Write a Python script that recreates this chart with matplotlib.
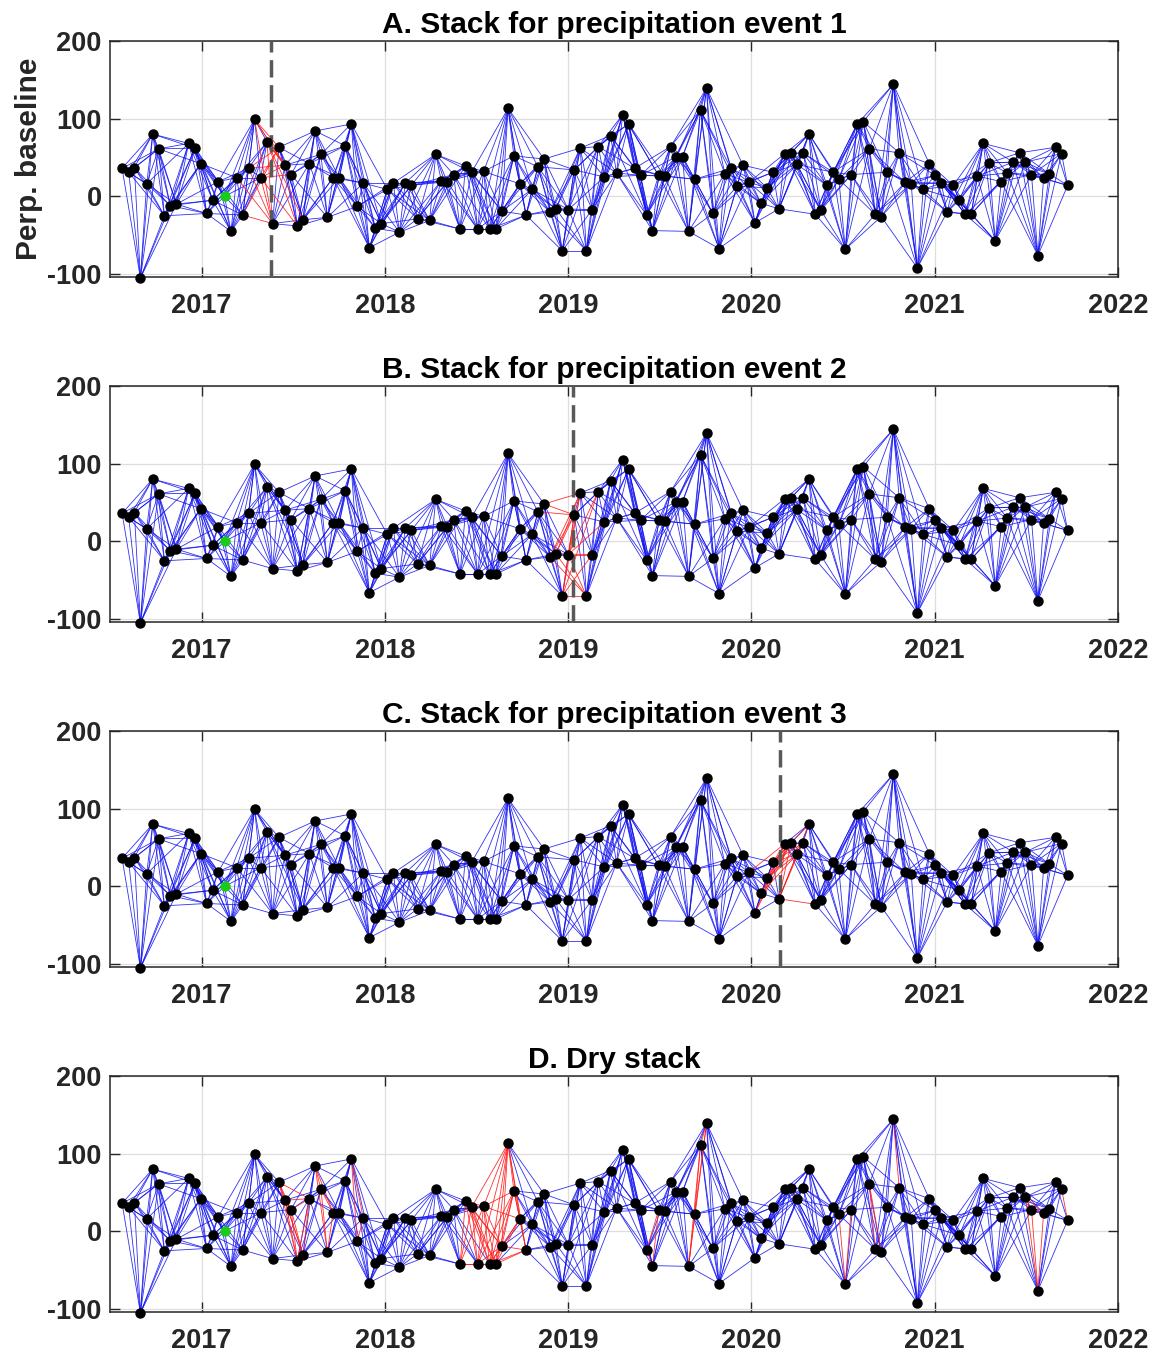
import matplotlib
matplotlib.use('Agg')
import matplotlib.pyplot as plt
from matplotlib.collections import LineCollection
import numpy as np

# ---------------- data ----------------
dates = [2016.566, 2016.602, 2016.633, 2016.666, 2016.700, 2016.733, 2016.765, 2016.797,
         2016.829, 2016.862, 2016.929, 2016.964, 2016.995, 2017.027, 2017.060, 2017.091,
         2017.125, 2017.160, 2017.191, 2017.224, 2017.256, 2017.289, 2017.322, 2017.357,
         2017.387, 2017.422, 2017.455, 2017.488, 2017.522, 2017.553, 2017.588, 2017.619,
         2017.651, 2017.686, 2017.717, 2017.751, 2017.784, 2017.817, 2017.849, 2017.882,
         2017.915, 2017.948, 2017.980, 2018.013, 2018.046, 2018.079, 2018.111, 2018.144,
         2018.178, 2018.244, 2018.277, 2018.308, 2018.340, 2018.375, 2018.410, 2018.440,
         2018.473, 2018.506, 2018.538, 2018.571, 2018.604, 2018.637, 2018.672, 2018.704,
         2018.737, 2018.770, 2018.803, 2018.835, 2018.868, 2018.901, 2018.933, 2018.968,
         2019.001, 2019.033, 2019.066, 2019.099, 2019.131, 2019.164, 2019.197, 2019.231,
         2019.264, 2019.297, 2019.330, 2019.362, 2019.395, 2019.428, 2019.460, 2019.493,
         2019.526, 2019.559, 2019.591, 2019.624, 2019.657, 2019.690, 2019.722, 2019.755,
         2019.790, 2019.823, 2019.855, 2019.888, 2019.921, 2019.954, 2019.986, 2020.019,
         2020.052, 2020.085, 2020.117, 2020.150, 2020.183, 2020.216, 2020.248, 2020.281,
         2020.314, 2020.348, 2020.379, 2020.412, 2020.445, 2020.477, 2020.512, 2020.544,
         2020.577, 2020.610, 2020.643, 2020.675, 2020.708, 2020.741, 2020.774, 2020.806,
         2020.839, 2020.872, 2020.905, 2020.937, 2020.970, 2021.003, 2021.035, 2021.068,
         2021.101, 2021.134, 2021.166, 2021.199, 2021.232, 2021.265, 2021.297, 2021.330,
         2021.363, 2021.396, 2021.428, 2021.463, 2021.495, 2021.528, 2021.563, 2021.594,
         2021.626, 2021.659, 2021.692, 2021.725]

perp_baseline = [36, 31, 37, -105, 16, 80, 61, -25, -12, -10, 68, 62, 42, -22, -5, 19,
                 0, -45, 24, -24, 36, 99, 24, 70, -35, 63, 40, 28, -38, -30, 42, 84,
                 54, -27, 24, 24, 65, 93, -13, 17, -66, -41, -35, 9, 17, -46, 17, 14,
                 -29, -31, 54, 20, 19, 28, -42, 39, 31, -42, 32, -42, -42, -19, 113, 52,
                 16, -24, 9, 38, 48, -20, -16, -70, -17, 34, 62, -70, -17, 64, 25, 78,
                 30, 105, 93, 36, 27, -24, -44, 27, 26, 64, 51, 51, -45, 22, 111, 139,
                 -22, -67, 29, 36, 13, 40, 18, -34, -9, 11, 31, -16, 55, 56, 41, 56,
                 80, -23, -18, 14, 31, 22, -68, 28, 93, 96, 61, -23, -26, 31, 144, 56,
                 18, 16, -92, 9, 42, 27, 17, -20, 14, -5, -23, -23, 26, 68, 43, -57,
                 19, 30, 44, 56, 44, 28, -76, 23, 29, 63, 55, 14]

reference_acquisition = 17          # 1-based number of the reference (green) acquisition
n_neighbors = 6                     # each acquisition paired with its next 6 acquisitions
event_dates = [2017.379, 2019.024, 2020.157]
# red (excluded) pairs in the dry stack: acquisition-number windows (1-based)
dry_red_windows = [(26, 31), (32, 35), (38, 40), (55, 66), (86, 88), (93, 96),
                   (110, 111), (118, 120), (123, 125), (127, 128), (149, 152), (155, 156)]

panel_titles = ['A. Stack for precipitation event 1',
                'B. Stack for precipitation event 2',
                'C. Stack for precipitation event 3',
                'D. Dry stack']
x_ticks = [2017, 2018, 2019, 2020, 2021, 2022]
y_ticks = [-100, 0, 100, 200]
y_label = 'Perp. baseline'

# ---------------- figure ----------------
W, H = 1155, 1354
plt.rcParams['font.family'] = ['Liberation Sans', 'DejaVu Sans']
plt.rcParams['font.weight'] = 'bold'
fig = plt.figure(figsize=(W / 100, H / 100), dpi=100)

t = np.array(dates)
b = np.array(perp_baseline, dtype=float)
n = len(t)
pairs = [(i, j) for i in range(n) for j in range(i + 1, min(i + 1 + n_neighbors, n))]

ax_left, ax_right = 110, 1118
ax_tops = [40.7, 385.7, 730.7, 1075.7]
ax_h = 236.6
dark = (0.15, 0.15, 0.15)

for k in range(4):
    top = ax_tops[k]
    ax = fig.add_axes([ax_left / W, 1 - (top + ax_h) / H, (ax_right - ax_left) / W, ax_h / H])

    blue_segs, red_segs = [], []
    for i, j in pairs:
        seg = [(t[i], b[i]), (t[j], b[j])]
        if k < 3:
            ev = event_dates[k]
            is_red = t[i] < ev < t[j]
        else:
            is_red = any(a - 1 <= i and j <= c - 1 for a, c in dry_red_windows)
        (red_segs if is_red else blue_segs).append(seg)

    ax.add_collection(LineCollection(blue_segs, colors=[(0.05, 0.05, 0.95)], linewidths=0.6,
                                     alpha=0.85, zorder=2))
    ax.add_collection(LineCollection(red_segs, colors=[(1.0, 0.1, 0.1)], linewidths=0.6,
                                     alpha=0.9, zorder=3))
    if k < 3:
        ax.axvline(event_dates[k], color=(0.35, 0.35, 0.35), lw=2.5, dashes=(5, 2.2), zorder=4)

    ref = reference_acquisition - 1
    mask = np.ones(n, bool)
    mask[ref] = False
    ax.plot(t[mask], b[mask], 'o', color='black', ms=6.5, zorder=5, clip_on=False)
    ax.plot(t[ref], b[ref], 'o', color=(0.1, 0.8, 0.1), ms=6.5, zorder=6, clip_on=False)

    ax.set_xlim(2016.5, 2022.0)
    ax.set_ylim(-104, 200)
    ax.set_xticks(x_ticks)
    ax.set_yticks(y_ticks)
    ax.set_xticklabels([str(v) for v in x_ticks])
    ax.set_yticklabels([str(v) for v in y_ticks])
    ax.tick_params(direction='in', length=7, width=1.0, color=dark, labelcolor=dark,
                   labelsize=19.5, top=True, right=True)
    ax.tick_params(axis='x', pad=11)
    ax.tick_params(axis='y', pad=6)
    for lab in ax.get_xticklabels() + ax.get_yticklabels():
        lab.set_fontweight('bold')
    ax.grid(True, color=(0.87, 0.87, 0.87), lw=0.9, zorder=0)
    ax.set_axisbelow(True)
    for sp in ax.spines.values():
        sp.set_color(dark)
        sp.set_linewidth(1.1)
    ax.set_title(panel_titles[k], fontsize=21.5, fontweight='bold', color='black', pad=5.5)
    if k == 0:
        ax.set_ylabel(y_label, fontsize=21.5, fontweight='bold', color=dark)
        ax.yaxis.set_label_coords(-0.066, 0.5)

fig.savefig('out.png', dpi=100, facecolor='white')
